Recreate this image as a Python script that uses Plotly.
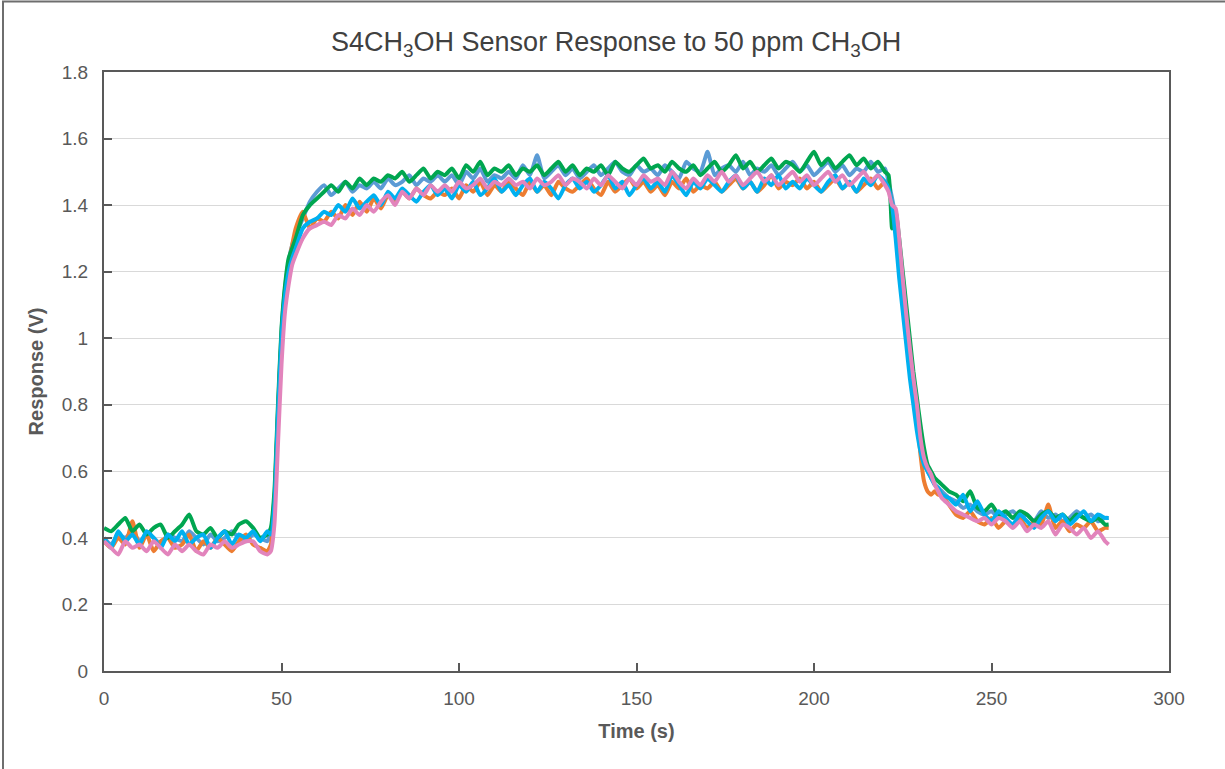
import plotly.graph_objects as go

# Time axis (s): 2 s steps, 1 s steps around the rise and fall
time_s = (list(range(0, 47, 2)) + list(range(47, 55)) + list(range(56, 221, 2))
          + list(range(221, 237)) + list(range(238, 283, 2)) + [283])

steel_blue = [
    0.40,0.38,0.41,0.40,0.42,0.39,0.41,0.40,0.38,0.41,0.40,0.39,0.42,0.40,0.38,0.41,0.39,0.40,0.42,0.40,0.39,0.41,0.40,0.39,
    0.42,0.52,0.78,1.02,1.15,1.23,1.28,1.31,
    1.36,1.41,1.44,1.46,1.43,1.45,1.47,1.44,1.46,1.45,
    1.47,1.45,1.48,1.46,1.47,1.49,1.46,1.48,1.47,1.49,
    1.47,1.49,1.46,1.50,1.48,1.51,1.47,1.49,1.48,1.50,
    1.48,1.52,1.49,1.55,1.48,1.50,1.52,1.49,1.51,1.48,
    1.50,1.52,1.49,1.51,1.53,1.50,1.49,1.52,1.50,1.51,
    1.49,1.52,1.50,1.48,1.53,1.51,1.50,1.56,1.49,1.51,
    1.52,1.50,1.53,1.49,1.51,1.50,1.52,1.49,1.51,1.53,
    1.50,1.52,1.49,1.51,1.53,1.50,1.52,1.49,1.51,1.50,
    1.53,1.50,1.51,
    1.47,1.42,1.36,1.25,1.15,1.05,0.95,0.86,0.78,0.70,0.64,0.60,0.58,0.56,0.55,0.54,
    0.52,0.51,0.49,0.50,0.48,0.47,0.48,0.46,0.47,0.48,
    0.46,0.47,0.45,0.48,0.46,0.47,0.45,0.46,0.48,0.46,
    0.47,0.45,0.46,
    0.46]

orange = [
    0.39,0.37,0.40,0.38,0.45,0.37,0.41,0.36,0.39,0.40,0.37,0.38,0.41,0.36,0.39,0.37,0.40,0.38,0.36,0.39,0.41,0.38,0.37,0.36,
    0.38,0.50,0.76,1.00,1.14,1.22,1.28,1.33,
    1.38,1.33,1.36,1.35,1.38,1.36,1.40,1.37,1.41,1.38,
    1.42,1.39,1.43,1.41,1.44,1.42,1.45,1.43,1.42,1.44,
    1.43,1.45,1.42,1.46,1.44,1.47,1.43,1.46,1.44,1.47,
    1.45,1.43,1.47,1.44,1.46,1.43,1.47,1.45,1.44,1.46,
    1.48,1.45,1.43,1.47,1.44,1.46,1.48,1.45,1.47,1.44,
    1.46,1.43,1.47,1.45,1.48,1.44,1.46,1.45,1.47,1.44,
    1.46,1.48,1.45,1.47,1.44,1.46,1.49,1.45,1.47,1.46,
    1.48,1.45,1.47,1.44,1.46,1.48,1.45,1.47,1.44,1.46,
    1.48,1.45,1.47,
    1.45,1.40,1.36,1.28,1.16,1.06,0.96,0.86,0.76,0.65,0.57,0.54,0.53,0.54,0.53,0.53,
    0.50,0.47,0.46,0.48,0.45,0.44,0.46,0.43,0.45,0.44,
    0.46,0.43,0.45,0.44,0.50,0.43,0.45,0.42,0.44,0.43,
    0.45,0.42,0.43,
    0.43]

green = [
    0.43,0.42,0.44,0.46,0.42,0.44,0.41,0.43,0.44,0.40,0.42,0.44,0.47,0.42,0.41,0.43,0.40,0.42,0.41,0.44,0.45,0.43,0.40,0.41,
    0.43,0.54,0.80,1.03,1.16,1.24,1.27,1.30,
    1.37,1.40,1.42,1.44,1.46,1.44,1.47,1.45,1.48,1.46,
    1.48,1.47,1.49,1.48,1.50,1.47,1.49,1.51,1.48,1.50,
    1.49,1.51,1.48,1.52,1.50,1.53,1.49,1.51,1.50,1.52,
    1.49,1.51,1.50,1.52,1.49,1.51,1.53,1.50,1.52,1.49,
    1.51,1.50,1.52,1.49,1.53,1.51,1.50,1.52,1.54,1.51,
    1.52,1.50,1.53,1.51,1.50,1.52,1.49,1.51,1.53,1.50,
    1.52,1.55,1.51,1.53,1.50,1.52,1.54,1.51,1.53,1.52,
    1.50,1.53,1.56,1.52,1.54,1.51,1.53,1.55,1.52,1.54,
    1.51,1.53,1.50,
    1.49,1.33,1.38,1.30,1.20,1.10,1.00,0.90,0.82,0.74,0.67,0.62,0.60,0.58,0.57,0.56,
    0.54,0.53,0.51,0.54,0.49,0.48,0.50,0.47,0.48,0.46,
    0.48,0.47,0.45,0.47,0.48,0.46,0.47,0.45,0.47,0.46,
    0.45,0.46,0.44,
    0.44]

cyan = [
    0.40,0.37,0.42,0.39,0.41,0.38,0.42,0.40,0.37,0.41,0.39,0.42,0.38,0.40,0.41,0.37,0.40,0.42,0.38,0.41,0.40,0.42,0.39,0.42,
    0.41,0.50,0.77,1.00,1.13,1.20,1.24,1.27,
    1.33,1.35,1.36,1.38,1.37,1.40,1.38,1.42,1.39,1.41,
    1.43,1.40,1.44,1.42,1.45,1.43,1.41,1.44,1.46,1.43,
    1.45,1.42,1.46,1.44,1.47,1.43,1.45,1.48,1.44,1.46,
    1.43,1.46,1.48,1.44,1.47,1.45,1.42,1.46,1.48,1.45,
    1.47,1.44,1.46,1.49,1.45,1.47,1.43,1.46,1.48,1.45,
    1.47,1.44,1.49,1.46,1.43,1.47,1.45,1.48,1.46,1.44,
    1.47,1.49,1.45,1.47,1.44,1.48,1.46,1.49,1.45,1.47,
    1.45,1.48,1.46,1.44,1.47,1.49,1.45,1.47,1.44,1.48,
    1.46,1.49,1.47,
    1.45,1.40,1.30,1.18,1.08,0.98,0.88,0.80,0.72,0.66,0.62,0.60,0.58,0.56,0.55,0.53,
    0.52,0.50,0.53,0.48,0.51,0.47,0.45,0.48,0.46,0.44,
    0.47,0.45,0.43,0.46,0.48,0.45,0.47,0.44,0.46,0.48,
    0.45,0.47,0.46,
    0.46]

pink = [
    0.39,0.37,0.35,0.39,0.37,0.38,0.36,0.39,0.37,0.35,0.38,0.36,0.38,0.36,0.35,0.38,0.37,0.39,0.37,0.38,0.39,0.39,0.36,0.35,
    0.36,0.44,0.68,0.92,1.08,1.16,1.22,1.25,
    1.30,1.33,1.34,1.35,1.34,1.37,1.36,1.39,1.37,1.40,
    1.38,1.41,1.43,1.40,1.44,1.42,1.45,1.43,1.46,1.44,
    1.46,1.44,1.47,1.45,1.46,1.48,1.45,1.47,1.46,1.48,
    1.46,1.47,1.45,1.48,1.46,1.47,1.49,1.46,1.48,1.47,
    1.45,1.48,1.46,1.49,1.47,1.45,1.48,1.46,1.49,1.47,
    1.48,1.46,1.50,1.47,1.45,1.48,1.46,1.49,1.47,1.50,
    1.47,1.49,1.46,1.48,1.50,1.47,1.49,1.46,1.48,1.50,
    1.47,1.49,1.46,1.48,1.50,1.47,1.49,1.46,1.48,1.50,
    1.47,1.49,1.46,
    1.44,1.40,1.39,1.30,1.18,1.07,0.97,0.88,0.80,0.70,0.64,0.61,0.59,0.56,0.54,0.52,
    0.50,0.48,0.47,0.46,0.45,0.46,0.44,0.46,0.45,0.43,
    0.45,0.42,0.44,0.43,0.45,0.41,0.44,0.43,0.41,0.43,
    0.40,0.42,0.39,
    0.38]

series = [
    ("Series 1", steel_blue, "#5B9BD5"),
    ("Series 2", orange, "#ED7D31"),
    ("Series 3", green, "#00A650"),
    ("Series 4", cyan, "#00B0F0"),
    ("Series 5", pink, "#E284BC"),
]

x_ticks = [0, 50, 100, 150, 200, 250, 300]
y_ticks = [0, 0.2, 0.4, 0.6, 0.8, 1, 1.2, 1.4, 1.6, 1.8]

fig = go.Figure()
for name, vals, col in series:
    fig.add_trace(go.Scatter(x=time_s, y=vals, mode="lines", name=name,
                             line=dict(color=col, width=4, shape="spline", smoothing=0.5),
                             showlegend=False))

font_main = "Liberation Sans, Arial, sans-serif"
fig.update_layout(
    width=1225, height=769,
    margin=dict(l=104, r=56, t=72, b=98, autoexpand=False),
    paper_bgcolor="white", plot_bgcolor="white",
    title=dict(text="S4CH<sub>3</sub>OH Sensor Response to 50 ppm CH<sub>3</sub>OH",
               x=0.503, xanchor="center", y=0.946, yanchor="middle",
               font=dict(family=font_main, size=27, color="#404040")),
    font=dict(family=font_main, color="#595959"),
)
fig.update_xaxes(range=[0, 300], tickvals=x_ticks, showgrid=False, zeroline=False,
                 showline=True, linecolor="#595959", linewidth=2, mirror=True,
                 ticks="inside", ticklen=8, tickcolor="#595959", tickwidth=1.5,
                 ticklabelstandoff=9,
                 tickfont=dict(size=19, color="#595959"),
                 title=dict(text="<b>Time (s)</b>", font=dict(size=20, color="#595959"), standoff=16))
fig.update_yaxes(range=[0, 1.8], tickvals=y_ticks, showgrid=True, gridcolor="#D9D9D9", gridwidth=1,
                 zeroline=False, showline=True, linecolor="#595959", linewidth=2, mirror=True,
                 ticks="inside", ticklen=8, tickcolor="#595959", tickwidth=1.5,
                 ticklabelstandoff=10,
                 tickfont=dict(size=19, color="#595959"),
                 title=dict(text="<b>Response (V)</b>", font=dict(size=20, color="#595959"), standoff=13))

# outer chart border
fig.add_shape(type="rect", xref="paper", yref="paper",
              x0=(3 - 104) / 1065, x1=(1230 - 104) / 1065,
              y0=(671 - 775) / 599, y1=(671 - 1.5) / 599,
              line=dict(color="#6E6E6E", width=2), fillcolor="rgba(0,0,0,0)", layer="below")

fig.write_html("out.html", config={"displayModeBar": False},
               post_script="document.body.style.margin='0px';")
